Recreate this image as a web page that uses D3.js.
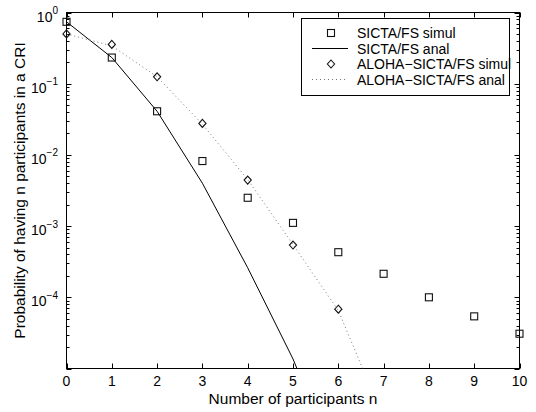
<!DOCTYPE html>
<html><head><meta charset="utf-8">
<script src="https://cdn.jsdelivr.net/npm/d3@7"></script>
<style>body{margin:0;background:#fff} text{font-family:"Liberation Sans",Arial,Helvetica,sans-serif}</style>
</head><body><svg id="c" width="536" height="412"></svg>
<script>
const nValues = [0,1,2,3,4,5,6,7,8,9,10];
const sictaSimul = [0.74,0.233,0.041,0.0082,0.0025,0.00111,0.00043,0.000214,0.0001,0.000054,0.0000308];
const sictaAnalN = [0,1,2,3,4,5,6];
const sictaAnal = [0.74,0.233,0.041,0.0040,0.00026,0.0000136,0.0000004];
const alohaSimulN = [0,1,2,3,4,5,6];
const alohaSimul = [0.50,0.356,0.125,0.0277,0.00443,0.000542,0.000068];
const alohaAnalN = [0,1,2,3,4,5,6,7];
const alohaAnal = [0.50,0.34,0.125,0.027,0.0045,0.00055,0.000065,0.000002];
const xTicks = [0,1,2,3,4,5,6,7,8,9,10];
const yTickExps = [0,-1,-2,-3,-4];
const legendLabels = ["SICTA/FS simul","SICTA/FS anal","ALOHA\u2212SICTA/FS simul","ALOHA\u2212SICTA/FS anal"];
const xLabel = "Number of participants n";
const yLabel = "Probability of having n participants in a CRI";

const L = 66.5, R = 519.5, T = 12.5, B = 368.5;
const svg = d3.select("#c");
const x = d3.scaleLinear().domain([0,10]).range([L,R]);
const y = d3.scaleLog().domain([1e-5,1]).range([B,T]);

svg.append("defs").append("clipPath").attr("id","clip")
  .append("rect").attr("x",L).attr("y",T).attr("width",R-L).attr("height",B-T);

svg.append("rect").attr("x",L).attr("y",T).attr("width",R-L).attr("height",B-T)
  .attr("fill","none").attr("stroke","#000").attr("stroke-width",1);

const g = svg.append("g").attr("stroke","#000").attr("stroke-width",1);
xTicks.forEach(t => {
  const px = Math.round(x(t)) + 0.5;
  g.append("line").attr("x1",px).attr("x2",px).attr("y1",B).attr("y2",B-5);
  g.append("line").attr("x1",px).attr("x2",px).attr("y1",T).attr("y2",T+5);
});
svg.selectAll(".xt").data(xTicks).enter().append("text")
  .attr("x",d=>x(d)).attr("y",386).attr("text-anchor","middle")
  .attr("font-size",14).text(d=>d);

for (let e=-5; e<=0; e++) {
  const base = Math.pow(10,e);
  const py = Math.round(y(base)) + 0.5;
  g.append("line").attr("x1",L).attr("x2",L+5).attr("y1",py).attr("y2",py);
  g.append("line").attr("x1",R).attr("x2",R-5).attr("y1",py).attr("y2",py);
  if (e<0) {
    for (let k=2;k<=9;k++){
      const pm = Math.round(y(base*k)) + 0.5;
      g.append("line").attr("x1",L).attr("x2",L+3).attr("y1",pm).attr("y2",pm);
      g.append("line").attr("x1",R).attr("x2",R-3).attr("y1",pm).attr("y2",pm);
    }
  }
}
yTickExps.forEach(e => {
  const t = svg.append("text").attr("x",58).attr("y",y(Math.pow(10,e))+9)
    .attr("text-anchor","end").attr("font-size",14);
  t.append("tspan").text("10");
  t.append("tspan").attr("dy",-7.5).attr("font-size",10).text(e===0?"0":"\u2212"+(-e));
});

svg.append("text").attr("x",(L+R)/2).attr("y",404).attr("text-anchor","middle")
  .attr("font-size",15.5).text(xLabel);
svg.append("text").attr("transform",`translate(25,${(T+B)/2}) rotate(-90)`)
  .attr("text-anchor","middle").attr("font-size",15.5).text(yLabel);

const plot = svg.append("g").attr("clip-path","url(#clip)");
const line = d3.line().x(d=>x(d[0])).y(d=>y(d[1]));

plot.append("path").datum(sictaAnalN.map((n,i)=>[n,sictaAnal[i]]))
  .attr("d",line).attr("fill","none").attr("stroke","#000").attr("stroke-width",1);
plot.append("path").datum(alohaAnalN.map((n,i)=>[n,alohaAnal[i]]))
  .attr("d",line).attr("fill","none").attr("stroke","#777").attr("stroke-width",1)
  .attr("stroke-dasharray","1,3");

const sq = 7, dw = 3.6, dh = 4;
function square(sel,cx,cy){
  sel.append("rect").attr("x",cx-sq/2).attr("y",cy-sq/2).attr("width",sq).attr("height",sq)
    .attr("fill","none").attr("stroke","#111").attr("stroke-width",1.1);
}
function diamond(sel,cx,cy){
  sel.append("path").attr("d",`M${cx},${cy-dh}L${cx+dw},${cy}L${cx},${cy+dh}L${cx-dw},${cy}Z`)
    .attr("fill","none").attr("stroke","#111").attr("stroke-width",1.1);
}
const marks = svg.append("g");
nValues.forEach((n,i)=>square(marks,x(n),y(sictaSimul[i])));
alohaSimulN.forEach((n,i)=>diamond(marks,x(n),y(alohaSimul[i])));

const lg = svg.append("g");
lg.append("rect").attr("x",301.5).attr("y",18.5).attr("width",208).attr("height",77)
  .attr("fill","#fff").attr("stroke","#000").attr("stroke-width",1);
const rows = [33,48.5,64,79.5];
legendLabels.forEach((lab,i)=>{
  const ry = rows[i];
  if (i===0) square(lg,331,ry);
  if (i===2) diamond(lg,331,ry);
  if (i===1) lg.append("line").attr("x1",312).attr("x2",348).attr("y1",ry).attr("y2",ry)
      .attr("stroke","#000").attr("stroke-width",1);
  if (i===3) lg.append("line").attr("x1",312).attr("x2",348).attr("y1",ry).attr("y2",ry)
      .attr("stroke","#777").attr("stroke-width",1).attr("stroke-dasharray","1,3");
  lg.append("text").attr("x",357).attr("y",ry+5).attr("font-size",14).text(lab);
});
</script></body></html>
